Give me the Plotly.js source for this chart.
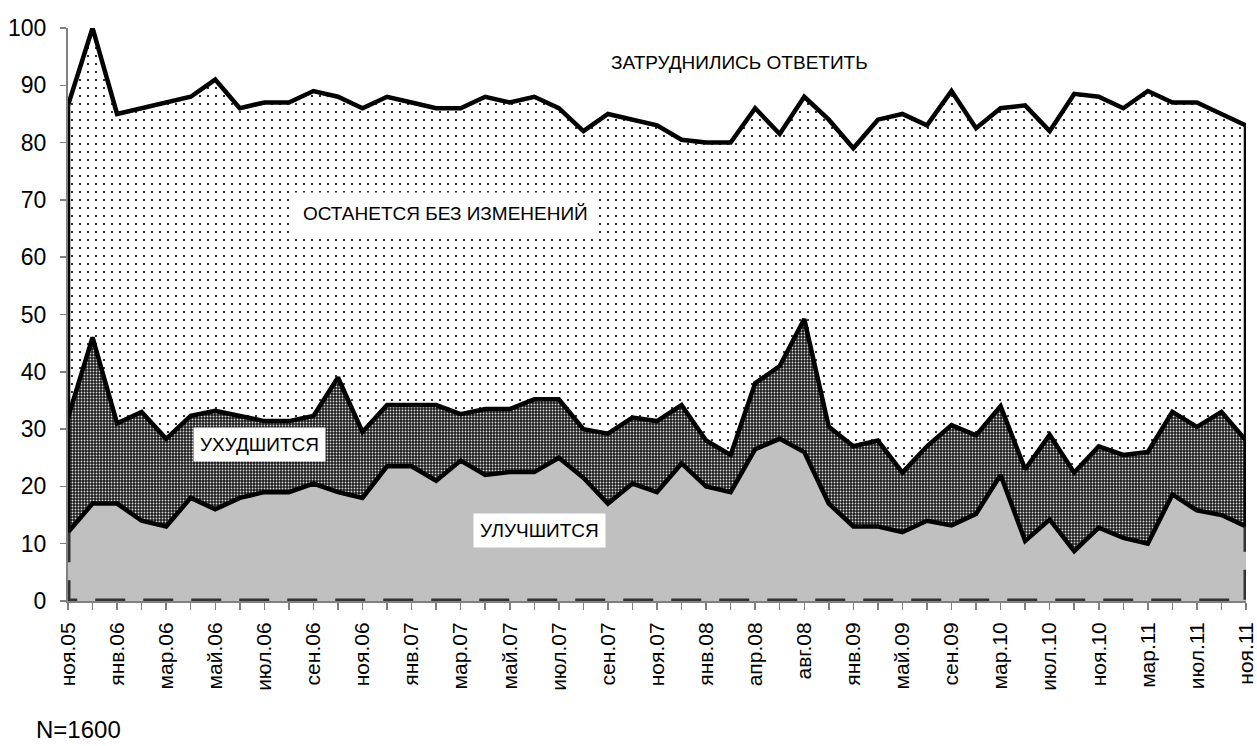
<!DOCTYPE html>
<html>
<head>
<meta charset="utf-8">
<script src="https://cdn.plot.ly/plotly-3.0.1.min.js"></script>
<style>html,body{margin:0;padding:0;background:#fff;}#chart{width:1257px;height:746px;}</style>
</head>
<body>
<div id="chart"></div>
<script>
// Survey months (every other one is labelled on the axis)
const categories = ["ноя.05","дек.05","янв.06","фев.06","мар.06","апр.06","май.06","июн.06","июл.06","авг.06",
  "сен.06","окт.06","ноя.06","дек.06","янв.07","фев.07","мар.07","апр.07","май.07","июн.07",
  "июл.07","авг.07","сен.07","окт.07","ноя.07","дек.07","янв.08","фев.08","апр.08","июн.08",
  "авг.08","окт.08","янв.09","мар.09","май.09","июл.09","сен.09","дек.09","мар.10","май.10",
  "июл.10","сен.10","ноя.10","янв.11","мар.11","май.11","июл.11","сен.11","ноя.11"];

// Series values, %
const better = [12,17,17,14,13,18,16,18,19,19,20.5,19,18,23.5,23.5,21,24.5,22,22.5,22.5,25,21.5,17,20.5,19,24,20,19,26.5,28.3,26,17,13,13,12,14,13.2,15.2,22,10.5,14.2,8.7,12.8,11,10,18.6,15.8,15,13];
const worse  = [20,29,14,19,15.3,14.3,17.2,14.3,12.4,12.4,11.8,20,11.5,10.7,10.7,13.2,8.1,11.5,11,12.7,10.2,8.5,12.2,11.5,12.4,10.2,8,6.5,11.5,12.7,23.2,13.4,14,15,10.4,13,17.5,13.7,12,12.5,14.8,13.7,14.2,14.5,16,14.4,14.6,18,15];
const same   = [54.5,54,54,53,58.7,55.7,57.8,53.7,55.6,55.6,56.7,49,56.5,53.8,52.8,51.8,53.4,54.5,53.5,52.8,50.8,52,55.8,52,51.6,46.3,52,54.5,48,40.5,38.8,53.6,52,56,62.6,56,58.3,53.6,52,63.5,53,66.1,61,60.5,63,54,56.6,52,55];

const seriesNames = ["УЛУЧШИТСЯ","УХУДШИТСЯ","ОСТАНЕТСЯ БЕЗ ИЗМЕНЕНИЙ","ЗАТРУДНИЛИСЬ ОТВЕТИТЬ"];
const sampleNote = "N=1600";

const tickText = categories.map((c, i) => (i % 2 === 0 ? c : ""));
const n = categories.length;
const first = categories[0], last = categories[n - 1];
const totalAt = i => better[i] + worse[i] + same[i];

const blackLine = {color: "#000", width: 4.5};

const traces = [
  {x: categories, y: better, type: "scatter", mode: "lines", stackgroup: "s", name: seriesNames[0],
   fillcolor: "#c0c0c0", line: blackLine, hoverinfo: "skip"},
  {x: categories, y: worse, type: "scatter", mode: "lines", stackgroup: "s", name: seriesNames[1],
   fillpattern: {shape: ".", bgcolor: "#1a1a1a", fgcolor: "#d8d8d8", size: 3, solidity: 0.3},
   line: blackLine, hoverinfo: "skip"},
  {x: categories, y: same, type: "scatter", mode: "lines", stackgroup: "s", name: seriesNames[2],
   fillpattern: {shape: ".", bgcolor: "#ffffff", fgcolor: "#000000", size: 8, solidity: 0.06},
   line: blackLine, hoverinfo: "skip"},
  // dashed outline of the lowest area (baseline + sides)
  {x: [first].concat(categories, [last]),
   y: [better[0]].concat(categories.map(() => 0), [better[n - 1]]),
   type: "scatter", mode: "lines", line: {color: "#333", width: 5, dash: "30px,18px"}, hoverinfo: "skip"},
  // vertical edges of the upper areas
  {x: [first, first], y: [better[0], totalAt(0)], type: "scatter", mode: "lines", line: blackLine, hoverinfo: "skip"},
  {x: [last, last], y: [better[n - 1], totalAt(n - 1)], type: "scatter", mode: "lines", line: blackLine, hoverinfo: "skip"}
];

const font = {family: "Arial, 'Liberation Sans', sans-serif", color: "#000"};
const annFont = Object.assign({}, font, {size: 19});

const layout = {
  width: 1257, height: 746,
  margin: {l: 68, r: 11, t: 28, b: 145},
  paper_bgcolor: "#fff", plot_bgcolor: "#fff",
  showlegend: false,
  font: font,
  xaxis: {
    type: "category", categoryorder: "array", categoryarray: categories,
    range: [0, n - 1], tickmode: "array", tickvals: categories, ticktext: tickText,
    tickangle: -90, ticks: "outside", ticklen: 7, tickwidth: 1.5, tickcolor: "#808080",
    ticklabelstandoff: 4,
    showline: true, linecolor: "#808080", linewidth: 2, showgrid: false, zeroline: false,
    tickfont: Object.assign({}, font, {size: 21})
  },
  yaxis: {
    range: [0, 100], tickmode: "linear", tick0: 0, dtick: 10,
    ticks: "outside", ticklen: 6, tickwidth: 1.5, tickcolor: "#808080",
    ticklabelstandoff: 9,
    showline: true, linecolor: "#808080", linewidth: 2, showgrid: false, zeroline: false,
    tickfont: Object.assign({}, font, {size: 23})
  },
  annotations: [
    {x: 27.35, y: 94, xref: "x", yref: "y", text: seriesNames[3], showarrow: false, font: annFont},
    {x: 15.4, y: 67.7, xref: "x", yref: "y", text: seriesNames[2], showarrow: false, font: annFont,
     bgcolor: "#fff", borderpad: 10},
    {x: 7.8, y: 27.3, xref: "x", yref: "y", text: seriesNames[1], showarrow: false, font: annFont,
     bgcolor: "#fff", borderpad: 6},
    {x: 19.2, y: 12.3, xref: "x", yref: "y", text: seriesNames[0], showarrow: false, font: annFont,
     bgcolor: "#fff", borderpad: 6},
    {x: -0.028, y: -0.224, xref: "paper", yref: "paper", xanchor: "left", yanchor: "middle",
     text: sampleNote, showarrow: false, font: Object.assign({}, font, {size: 24}), borderpad: 0}
  ]
};

Plotly.newPlot("chart", traces, layout, {displayModeBar: false, staticPlot: true});
</script>
</body>
</html>
